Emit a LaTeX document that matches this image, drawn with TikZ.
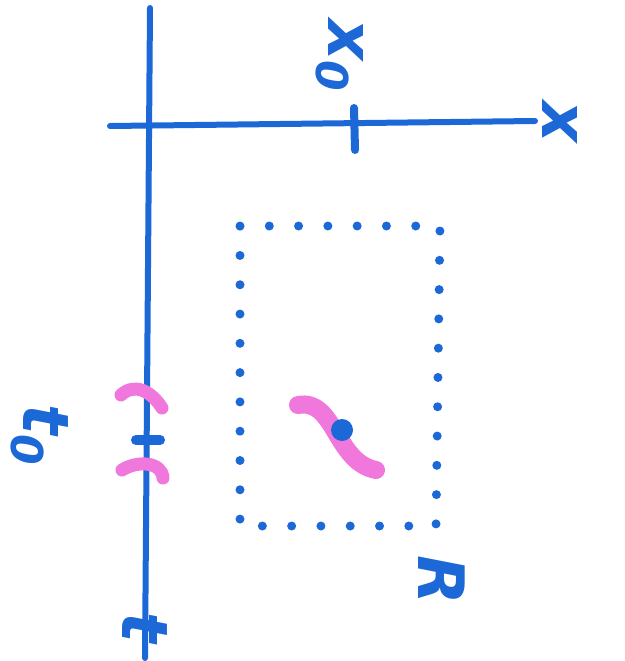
\documentclass[tikz,border=0pt]{standalone}
\usepackage{fontspec}
\setmainfont{DejaVu Sans}
\definecolor{pen}{RGB}{28,104,214}
\definecolor{hl}{RGB}{240,120,220}
\newcommand{\subz}{\raisebox{-0.35ex}{\fontsize{44}{44}\selectfont 0}}
\begin{document}
\begin{tikzpicture}[x=1pt,y=-1pt,
  axis/.style={draw=pen,line width=6,line cap=round},
  lbl/.style={text=pen,font=\fontsize{64}{64}\selectfont\bfseries\itshape,rotate=-90,inner sep=0},
  hilite/.style={draw=hl,line width=16,line cap=round},
  dots/.style={draw=pen,line width=9,line cap=round,dash pattern=on 0pt off 29.29pt}]
\useasboundingbox (0,0) rectangle (624,661);
% axes
\coordinate (tA) at (150,8);
\coordinate (tB) at (145,658);
\coordinate (xA) at (110,126);
\coordinate (xB) at (535,121);
\draw[axis] (tA) -- (tB);
\draw[axis] (xA) -- (xB);
% ticks
\coordinate (x0a) at (354,108); \coordinate (x0b) at (355,150);
\draw[axis,line width=8] (x0a) -- (x0b);
\coordinate (t0a) at (136,440); \coordinate (t0b) at (160,440);
\draw[axis,line width=10] (t0a) -- (t0b);
% pink marks around t0
\draw[hilite,line width=13] (121,395) .. controls (135,382) and (152,392) .. (162,408);
\draw[hilite,line width=13] (122,470) .. controls (138,460) and (162,462) .. (163,478);
% labels
\node[lbl] (lx0) at (340,55) {x\subz};
\node[lbl] (lx) at (560,122) {x};
\node[lbl] (lt0) at (40,435) {t\subz};
\node[lbl] (lt) at (145,628) {t};
\node[lbl] (lR) at (442,580) {R};
% dotted region
\coordinate (r1) at (240,226);
\coordinate (r2) at (440,226);
\coordinate (r3) at (436,526);
\coordinate (r4) at (240,526);
\draw[dots] (r1) -- (r2) -- (r3) -- (r4) -- cycle;
% pink S and point
\draw[hilite,line width=18] (298,405) .. controls (335,398) and (335,462) .. (376,470);
\node[circle,fill=pen,minimum size=22,inner sep=0] (pt) at (342,430) {};
\end{tikzpicture}
\end{document}
